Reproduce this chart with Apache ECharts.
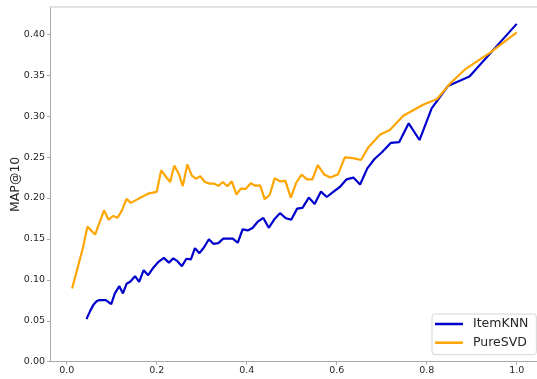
<!DOCTYPE html>
<html>
<head>
<meta charset="utf-8">
<script src="https://cdn.jsdelivr.net/npm/echarts@6/dist/echarts.min.js"></script>
<style>
  html, body { margin: 0; padding: 0; background: #fff; }
  #chart { width: 537px; height: 379px; }
</style>
</head>
<body>
<div id="chart"></div>
<script>
// MAP@10 of two recommenders as a function of the sampled fraction
var itemKnnX = [0.044, 0.053, 0.060, 0.067, 0.073, 0.080, 0.087, 0.091, 0.099, 0.107,
  0.117, 0.125, 0.133, 0.141, 0.152, 0.161, 0.171, 0.181, 0.193, 0.204,
  0.216, 0.227, 0.237, 0.246, 0.256, 0.266, 0.276, 0.285, 0.295, 0.305,
  0.316, 0.326, 0.337, 0.348, 0.369, 0.380, 0.391, 0.402, 0.413, 0.424,
  0.437, 0.449, 0.461, 0.474, 0.487, 0.499, 0.512, 0.524, 0.538, 0.551,
  0.565, 0.578, 0.593, 0.607, 0.622, 0.637, 0.652, 0.668, 0.684, 0.700,
  0.720, 0.739, 0.760, 0.784, 0.811, 0.847, 0.895, 1.000];
var itemKnnY = [0.0520, 0.0630, 0.0700, 0.0742, 0.0752, 0.0752, 0.0752, 0.0768, 0.0704, 0.0834,
  0.0923, 0.0834, 0.0952, 0.0976, 0.1045, 0.0976, 0.1118, 0.1057, 0.1151, 0.1220,
  0.1268, 0.1210, 0.1262, 0.1228, 0.1167, 0.1258, 0.1249, 0.1386, 0.1326, 0.1395,
  0.1496, 0.1440, 0.1448, 0.1503, 0.1503, 0.1453, 0.1618, 0.1604, 0.1634, 0.1707,
  0.1756, 0.1636, 0.1736, 0.1815, 0.1752, 0.1735, 0.1870, 0.1880, 0.2005, 0.1927,
  0.2078, 0.2012, 0.2078, 0.2134, 0.2228, 0.2249, 0.2165, 0.2362, 0.2476, 0.2555,
  0.2673, 0.2683, 0.2912, 0.2708, 0.3094, 0.3367, 0.3484, 0.4127];

var pureSvdX = [0.012, 0.036, 0.046, 0.063, 0.083, 0.093, 0.103, 0.113, 0.122, 0.133,
  0.142, 0.156, 0.171, 0.183, 0.200, 0.210, 0.221, 0.230, 0.239, 0.249,
  0.258, 0.268, 0.278, 0.287, 0.297, 0.307, 0.318, 0.327, 0.337, 0.347,
  0.357, 0.367, 0.377, 0.387, 0.398, 0.409, 0.418, 0.430, 0.440, 0.451,
  0.462, 0.474, 0.486, 0.498, 0.510, 0.522, 0.534, 0.546, 0.558, 0.572,
  0.586, 0.603, 0.618, 0.636, 0.654, 0.670, 0.696, 0.718, 0.748, 0.792,
  0.823, 0.853, 0.885, 0.941, 1.000];
var pureSvdY = [0.0895, 0.1390, 0.1650, 0.1553, 0.1850, 0.1735, 0.1780, 0.1760, 0.1840, 0.1990,
  0.1940, 0.1980, 0.2025, 0.2057, 0.2075, 0.2338, 0.2256, 0.2195, 0.2395, 0.2297,
  0.2145, 0.2410, 0.2272, 0.2236, 0.2265, 0.2195, 0.2175, 0.2177, 0.2148, 0.2195,
  0.2143, 0.2204, 0.2043, 0.2115, 0.2112, 0.2179, 0.2152, 0.2155, 0.1984, 0.2036,
  0.2240, 0.2204, 0.2208, 0.2005, 0.2186, 0.2285, 0.2228, 0.2228, 0.2400, 0.2287,
  0.2249, 0.2289, 0.2497, 0.2487, 0.2464, 0.2616, 0.2773, 0.2830, 0.3005, 0.3139,
  0.3210, 0.3405, 0.3570, 0.3775, 0.4024];

var xTicks = [0, 0.2, 0.4, 0.6, 0.8, 1.0];
var yTicks = [0, 0.05, 0.10, 0.15, 0.20, 0.25, 0.30, 0.35, 0.40];
var seriesNames = ['ItemKNN', 'PureSVD'];
var seriesColors = ['#0000cc', '#ffa500'];

function pairs(xs, ys) {
  return xs.map(function (x, i) { return [x, ys[i]]; });
}

var font = 'DejaVu Sans';
var axisGrey = '#a9a9a9';
var textColor = '#262626';

var chart = echarts.init(document.getElementById('chart'), null, { renderer: 'canvas' });
chart.setOption({
  animation: false,
  backgroundColor: '#fff',
  grid: { left: 50, right: 0, top: 7, bottom: 17.3, containLabel: false, outerBoundsMode: 'none' },
  xAxis: [{
    type: 'value',
    min: -0.0371,
    max: 1.0451,
    axisLine: { show: true, onZero: false, lineStyle: { color: axisGrey, width: 1 } },
    axisTick: { show: true, length: 3, customValues: xTicks, lineStyle: { color: axisGrey } },
    axisLabel: {
      customValues: xTicks,
      margin: 4,
      color: textColor,
      fontFamily: font,
      fontSize: 9.5,
      formatter: function (v) { return v.toFixed(1); }
    },
    splitLine: { show: false }
  }, {
    type: 'value',
    position: 'top',
    min: -0.0371,
    max: 1.0451,
    axisLine: { show: true, onZero: false, lineStyle: { color: '#d9d9d9', width: 1.5 } },
    axisTick: { show: false },
    axisLabel: { show: false },
    splitLine: { show: false }
  }],
  yAxis: {
    type: 'value',
    min: 0,
    max: 0.4333,
    name: 'MAP@10',
    nameLocation: 'middle',
    nameGap: 28,
    nameMoveOverlap: false,
    nameTextStyle: { color: textColor, fontFamily: font, fontSize: 12.5 },
    axisLine: { show: true, onZero: false, lineStyle: { color: axisGrey, width: 1 } },
    axisTick: { show: true, length: 3, customValues: yTicks, lineStyle: { color: axisGrey } },
    axisLabel: {
      customValues: yTicks,
      margin: 5,
      color: textColor,
      fontFamily: font,
      fontSize: 9.5,
      formatter: function (v) { return v.toFixed(2); }
    },
    splitLine: { show: false }
  },
  legend: {
    orient: 'vertical',
    left: 432,
    top: 314,
    padding: [2.5, 8, 4.5, 3],
    itemGap: 3.7,
    itemWidth: 28,
    itemHeight: 2.5,
    icon: 'rect',
    backgroundColor: 'rgba(255,255,255,0.85)',
    borderColor: '#d6d6d6',
    borderWidth: 1,
    borderRadius: 3,
    textStyle: {
      color: textColor,
      fontFamily: font,
      fontSize: 12.5,
      lineHeight: 15,
      padding: [0, 0, 0, 5]
    },
    data: seriesNames
  },
  series: [{
    name: seriesNames[0],
    type: 'line',
    xAxisIndex: 0,
    showSymbol: false,
    symbol: 'none',
    color: seriesColors[0],
    lineStyle: { color: seriesColors[0], width: 2.2 },
    data: pairs(itemKnnX, itemKnnY)
  }, {
    name: seriesNames[1],
    type: 'line',
    xAxisIndex: 0,
    showSymbol: false,
    symbol: 'none',
    color: seriesColors[1],
    lineStyle: { color: seriesColors[1], width: 2.2 },
    data: pairs(pureSvdX, pureSvdY)
  }]
});
</script>
</body>
</html>
